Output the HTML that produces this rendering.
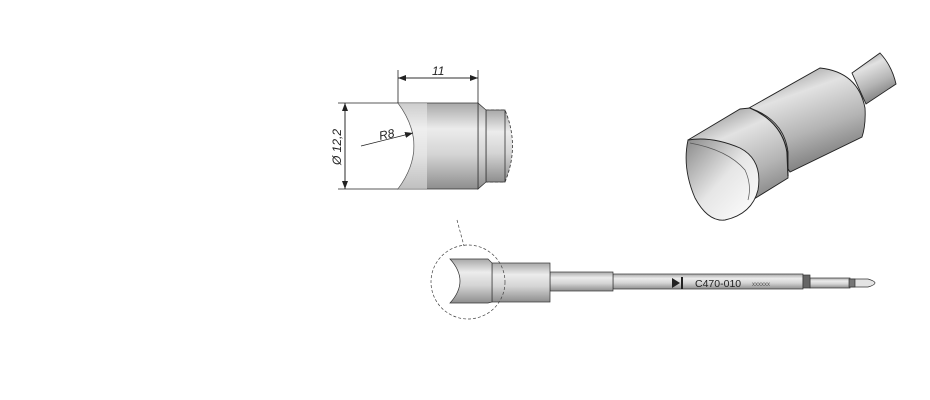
<!DOCTYPE html>
<html><head><meta charset="utf-8"><style>html,body{margin:0;padding:0;background:#fff}svg{display:block}</style></head><body>
<svg width="930" height="400" viewBox="0 0 930 400" xmlns="http://www.w3.org/2000/svg" font-family="Liberation Sans, sans-serif">
<defs>
<linearGradient id="v" x1="0" y1="0" x2="0" y2="1">
<stop offset="0" stop-color="#a8a8a8"/><stop offset="0.3" stop-color="#ececec"/><stop offset="0.6" stop-color="#d4d4d4"/><stop offset="1" stop-color="#8e8e8e"/></linearGradient>
<linearGradient id="c3" x1="0.3" y1="0" x2="0.7" y2="1">
<stop offset="0" stop-color="#9a9a9a"/><stop offset="0.25" stop-color="#e2e2e2"/><stop offset="0.6" stop-color="#b4b4b4"/><stop offset="1" stop-color="#6e6e6e"/></linearGradient>
<linearGradient id="f3" x1="0" y1="0" x2="1" y2="1">
<stop offset="0" stop-color="#8a8a8a"/><stop offset="0.5" stop-color="#e6e6e6"/><stop offset="1" stop-color="#ffffff"/></linearGradient>
<marker id="ar" markerWidth="8" markerHeight="6" refX="8" refY="3" orient="auto" markerUnits="userSpaceOnUse"><path d="M0,0L8,3L0,6z" fill="#222"/></marker>
</defs>
<!-- front view -->
<g stroke="#333" stroke-width="0.8">
<path d="M486,110 L505,110 Q520,146 505,182 L486,182 Z" fill="url(#v)" stroke-dasharray="3,2"/>
<path d="M486,110 L505,110 L505,182 L486,182 Z" fill="url(#v)"/>
<path d="M478,103 L486,110 L486,182 L478,189 Z" fill="url(#v)"/>
<path d="M398,103 L478,103 L478,189 L398,189 Q430,146 398,103 Z" fill="url(#v)"/>
<path d="M398,103 L427,103 L427,189 L398,189 Q430,146 398,103 Z" fill="#f2f2f2" opacity="0.5" stroke="none"/>
</g>
<g stroke="#222" stroke-width="0.8" fill="none">
<line x1="398" y1="70" x2="398" y2="103"/><line x1="478" y1="70" x2="478" y2="103"/>
<line x1="398" y1="78" x2="478" y2="78" marker-end="url(#ar)"/><line x1="478" y1="78" x2="398" y2="78" marker-end="url(#ar)"/>
<line x1="338" y1="103" x2="398" y2="103"/><line x1="338" y1="189" x2="398" y2="189"/>
<line x1="345" y1="103" x2="345" y2="189" marker-end="url(#ar)"/><line x1="345" y1="189" x2="345" y2="103" marker-end="url(#ar)"/>
<line x1="361" y1="146" x2="413" y2="133" marker-end="url(#ar)"/>
</g>
<text x="432" y="75" font-size="12" font-style="italic" fill="#222">11</text>
<text x="380" y="140" font-size="12" font-style="italic" fill="#222" transform="rotate(-12 380 140)">R8</text>
<text transform="translate(341,165) rotate(-90)" font-size="12" font-style="italic" fill="#222">Ø 12,2</text>
<!-- side view -->
<g stroke="#333" stroke-width="0.7">
<path d="M845,279 L868,279 Q882,283 868,287 L845,287 Z" fill="#e4e4e4"/>
<rect x="810" y="278" width="40" height="10" fill="url(#v)"/>
<rect x="849" y="279" width="6" height="8" fill="#777"/>
<rect x="613" y="274" width="190" height="15" fill="url(#v)"/>
<rect x="803" y="275" width="7" height="13" fill="#666"/>
<rect x="550" y="272" width="63" height="19" fill="url(#v)"/>
<rect x="492" y="263" width="58" height="39" fill="url(#v)"/>
<path d="M450,259 L488,259 L492,263 L492,302 L488,303 L450,303 Q470,281 450,259 Z" fill="url(#v)"/>
</g>
<path d="M672,278 L680,283 L672,288 Z" fill="#222"/><rect x="681" y="277" width="2" height="12" fill="#222"/>
<text x="695" y="287" font-size="10.5" fill="#222">C470-010</text>
<text x="752" y="286" font-size="6" fill="#555">xxxxxx</text>
<circle cx="468" cy="282" r="37" fill="none" stroke="#444" stroke-width="0.7" stroke-dasharray="3,2"/>
<line x1="457" y1="220" x2="464" y2="246" stroke="#444" stroke-width="0.7" stroke-dasharray="3,2"/>
<!-- 3D view -->
<g stroke="#222" stroke-width="0.9">
<path d="M852,73 L880,53 Q892,66 896,84 L866,104 Z" fill="url(#c3)"/>
<path d="M749,108 L820,68 Q858,72 865,108 Q866,125 862,137 L790,172 Z" fill="url(#c3)"/>
<path d="M688,140 L740,109 L750,108 Q784,120 788,152 L788,178 L720,220 Z" fill="url(#c3)"/>
<path d="M750,108 Q782,122 787,152 L788,176" fill="none" stroke-width="1.2"/>
<path d="M688,140 Q682,168 695,198 Q708,222 725,220 Q752,214 758,190 Q763,160 740,148 Q712,136 688,140 Z" fill="url(#f3)"/>
<path d="M690,143 Q728,150 745,170 Q752,185 748,200" fill="none" stroke="#555" stroke-width="0.7"/>
</g>
</svg>
</body></html>
